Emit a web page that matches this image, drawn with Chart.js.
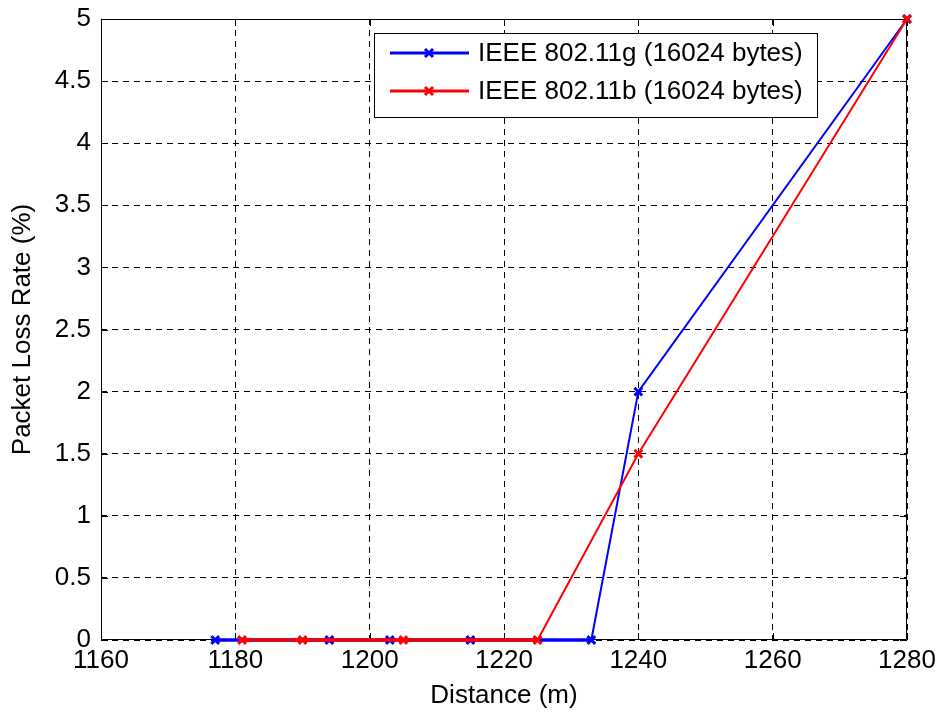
<!DOCTYPE html>
<html>
<head>
<meta charset="utf-8">
<title>Packet Loss Rate vs Distance</title>
<script src="https://cdn.jsdelivr.net/npm/chart.js@4.4.1/dist/chart.umd.min.js"></script>
<style>
  html, body { margin: 0; padding: 0; background: #fff; }
  canvas { display: block; }
</style>
</head>
<body>
<canvas id="lossChart" width="937" height="713"></canvas>
<script>
// measured points for each standard
const gDistance = [1177, 1194, 1203, 1215, 1233, 1240, 1280];
const gLoss = [0, 0, 0, 0, 0, 2, 5];
const bDistance = [1181, 1190, 1205, 1225, 1240, 1280];
const bLoss = [0, 0, 0, 0, 1.5, 5];

const seriesNames = ["IEEE 802.11g (16024 bytes)", "IEEE 802.11b (16024 bytes)"];
const xTicks = [1160, 1180, 1200, 1220, 1240, 1260, 1280];
const yTicks = [0, 0.5, 1, 1.5, 2, 2.5, 3, 3.5, 4, 4.5, 5];

const FONT = "Liberation Sans, Arial, sans-serif";
const FS = 26;
const BLUE = "#0000ff";
const RED = "#ff0000";

function toPoints(xs, ys) {
  return xs.map((x, i) => ({ x: x, y: ys[i] }));
}

// flat runs look heavier than the sloped ones
const segWidth = (ctx) => (ctx.p0.parsed.y === ctx.p1.parsed.y ? 3.5 : 2);

// box around the plot with inward tick marks on all four sides
const axesBox = {
  id: "axesBox",
  beforeDatasetsDraw(chart) {
    const { ctx, chartArea: a, scales } = chart;
    const len = 7;
    ctx.save();
    ctx.strokeStyle = "#000";
    ctx.lineWidth = 1;
    ctx.beginPath();
    ctx.rect(a.left + 0.5, a.top + 0.5, a.right - a.left - 1, a.bottom - a.top - 1);
    xTicks.forEach((v) => {
      const px = Math.round(scales.x.getPixelForValue(v)) + 0.5;
      ctx.moveTo(px, a.bottom);
      ctx.lineTo(px, a.bottom - len);
      ctx.moveTo(px, a.top);
      ctx.lineTo(px, a.top + len);
    });
    yTicks.forEach((v) => {
      const py = Math.round(scales.y.getPixelForValue(v)) + 0.5;
      ctx.moveTo(a.left, py);
      ctx.lineTo(a.left + len, py);
      ctx.moveTo(a.right, py);
      ctx.lineTo(a.right - len, py);
    });
    ctx.stroke();
    ctx.restore();
  }
};

// legend box drawn inside the plot, top right
const boxLegend = {
  id: "boxLegend",
  afterDraw(chart) {
    const { ctx } = chart;
    const left = 374, top = 33, right = 817, bottom = 117;
    const rows = [53, 91];
    const colors = [BLUE, RED];
    ctx.save();
    ctx.fillStyle = "#fff";
    ctx.fillRect(left, top, right - left, bottom - top);
    ctx.strokeStyle = "#000";
    ctx.lineWidth = 1;
    ctx.strokeRect(left + 0.5, top + 0.5, right - left, bottom - top);
    rows.forEach((y, i) => {
      ctx.strokeStyle = colors[i];
      ctx.lineWidth = 3;
      ctx.beginPath();
      ctx.moveTo(390, y);
      ctx.lineTo(469, y);
      ctx.stroke();
      ctx.lineWidth = 3;
      ctx.beginPath();
      ctx.moveTo(425, y - 4);
      ctx.lineTo(433, y + 4);
      ctx.moveTo(433, y - 4);
      ctx.lineTo(425, y + 4);
      ctx.stroke();
      ctx.fillStyle = "#000";
      ctx.font = FS + "px " + FONT;
      ctx.textBaseline = "middle";
      ctx.textAlign = "left";
      ctx.fillText(seriesNames[i], 478, y + 1);
    });
    ctx.restore();
  }
};

const gridStyle = { color: "#000", lineWidth: 1, drawTicks: false };
const dashed = { display: false, dash: [6, 5] };

new Chart(document.getElementById("lossChart"), {
  type: "line",
  data: {
    datasets: [
      {
        label: seriesNames[0],
        data: toPoints(gDistance, gLoss),
        borderColor: BLUE,
        backgroundColor: BLUE,
        borderWidth: 2,
        pointStyle: "crossRot",
        pointRadius: 5.5,
        pointBorderWidth: 3,
        segment: { borderWidth: segWidth },
        clip: false,
        order: 1
      },
      {
        label: seriesNames[1],
        data: toPoints(bDistance, bLoss),
        borderColor: RED,
        backgroundColor: RED,
        borderWidth: 2,
        pointStyle: "crossRot",
        pointRadius: 5.5,
        pointBorderWidth: 3,
        segment: { borderWidth: segWidth },
        clip: false,
        order: 0
      }
    ]
  },
  options: {
    responsive: false,
    animation: false,
    devicePixelRatio: 1,
    layout: { padding: { top: 19, right: 30, left: 0, bottom: 0 } },
    plugins: {
      legend: { display: false },
      tooltip: { enabled: false }
    },
    scales: {
      x: {
        type: "linear",
        min: 1160,
        max: 1280,
        afterBuildTicks: (scale) => { scale.ticks = xTicks.map((v) => ({ value: v })); },
        afterFit: (scale) => {
          scale.height = 73;
          scale.paddingLeft = 0;
          scale.paddingRight = 0;
        },
        grid: gridStyle,
        border: dashed,
        ticks: {
          color: "#000",
          font: { family: FONT, size: FS },
          padding: 5,
          maxRotation: 0,
          callback: (v) => String(v)
        },
        title: {
          display: true,
          text: "Distance (m)",
          color: "#000",
          font: { family: FONT, size: FS },
          padding: { top: 0, bottom: 2 }
        }
      },
      y: {
        type: "linear",
        min: 0,
        max: 5,
        afterBuildTicks: (scale) => { scale.ticks = yTicks.map((v) => ({ value: v })); },
        afterFit: (scale) => {
          scale.width = 101;
          scale.paddingTop = 0;
          scale.paddingBottom = 0;
        },
        grid: gridStyle,
        border: dashed,
        ticks: {
          color: "#000",
          font: { family: FONT, size: FS },
          padding: 10,
          callback: (v) => String(v)
        },
        title: {
          display: true,
          text: "Packet Loss Rate (%)",
          color: "#000",
          font: { family: FONT, size: FS },
          padding: { top: 7, bottom: 0 }
        }
      }
    }
  },
  plugins: [axesBox, boxLegend]
});
</script>
</body>
</html>
